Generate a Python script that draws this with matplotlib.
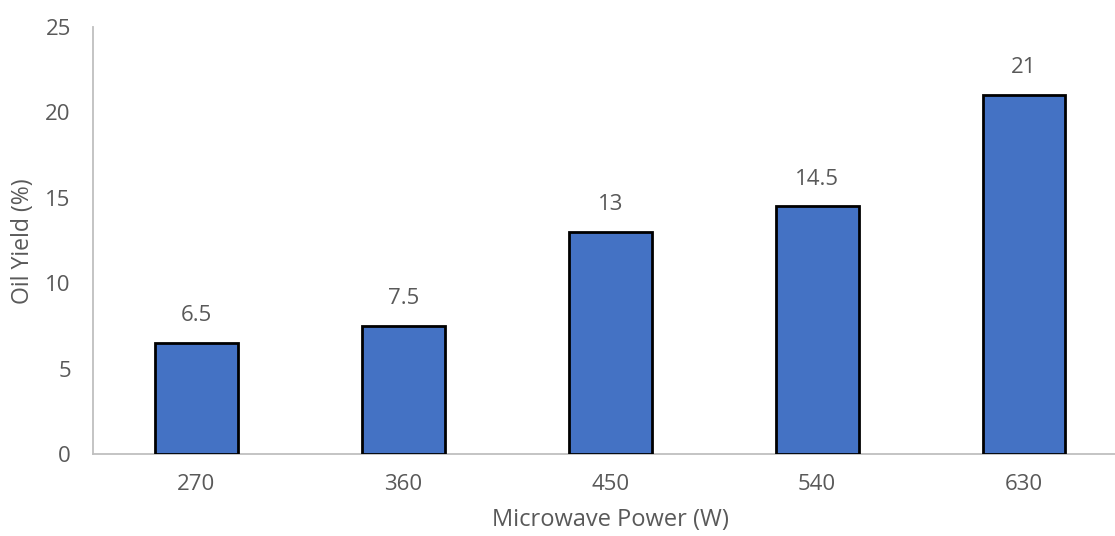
import matplotlib.pyplot as plt

power = ["270", "360", "450", "540", "630"]
oil_yield = [6.5, 7.5, 13, 14.5, 21]
yticks = [0, 5, 10, 15, 20, 25]

GREY = "#595959"
AXIS = "#BFBFBF"
BLUE = "#4472C4"


def main():
    plt.rcParams["font.family"] = ["Open Sans", "DejaVu Sans"]
    fig = plt.figure(figsize=(11.15, 5.36), dpi=100)
    # plot area runs slightly past the right edge of the canvas
    ax = fig.add_axes([93 / 1115, 81.7 / 536, 1034.5 / 1115, 427.6 / 536])

    x = range(len(power))
    bars = ax.bar(x, oil_yield, width=0.4, color=BLUE, edgecolor="black", linewidth=2, zorder=3)
    for b, v in zip(bars, oil_yield):
        ax.annotate(f"{v:g}", (b.get_x() + b.get_width() / 2, v), xytext=(0, 12),
                    textcoords="offset points", ha="center", va="bottom",
                    fontsize=16, color=GREY)

    ax.set_xlim(-0.5, len(power) - 0.5)
    ax.set_ylim(0, 25)
    ax.set_xticks(list(x))
    ax.set_xticklabels(power)
    ax.set_yticks(yticks)
    ax.tick_params(length=0, labelsize=16, labelcolor=GREY)
    ax.tick_params(axis="y", pad=16)
    ax.tick_params(axis="x", pad=14)

    for s in ["top", "right"]:
        ax.spines[s].set_visible(False)
    ax.spines["left"].set_color(AXIS)
    ax.spines["bottom"].set_color(AXIS)
    ax.spines["left"].set_linewidth(1.3)
    ax.spines["bottom"].set_linewidth(1.3)

    fig.text(610 / 1115, 1 - 520 / 536, "Microwave Power (W)", ha="center", va="center",
             fontsize=17, color=GREY)
    fig.text(23 / 1115, 1 - 241 / 536, "Oil Yield (%)", ha="center", va="center",
             rotation=90, fontsize=16.6, color=GREY)
    return fig, ax


if __name__ == "__main__":
    fig, ax = main()
    fig.savefig("out.png", dpi=100)
